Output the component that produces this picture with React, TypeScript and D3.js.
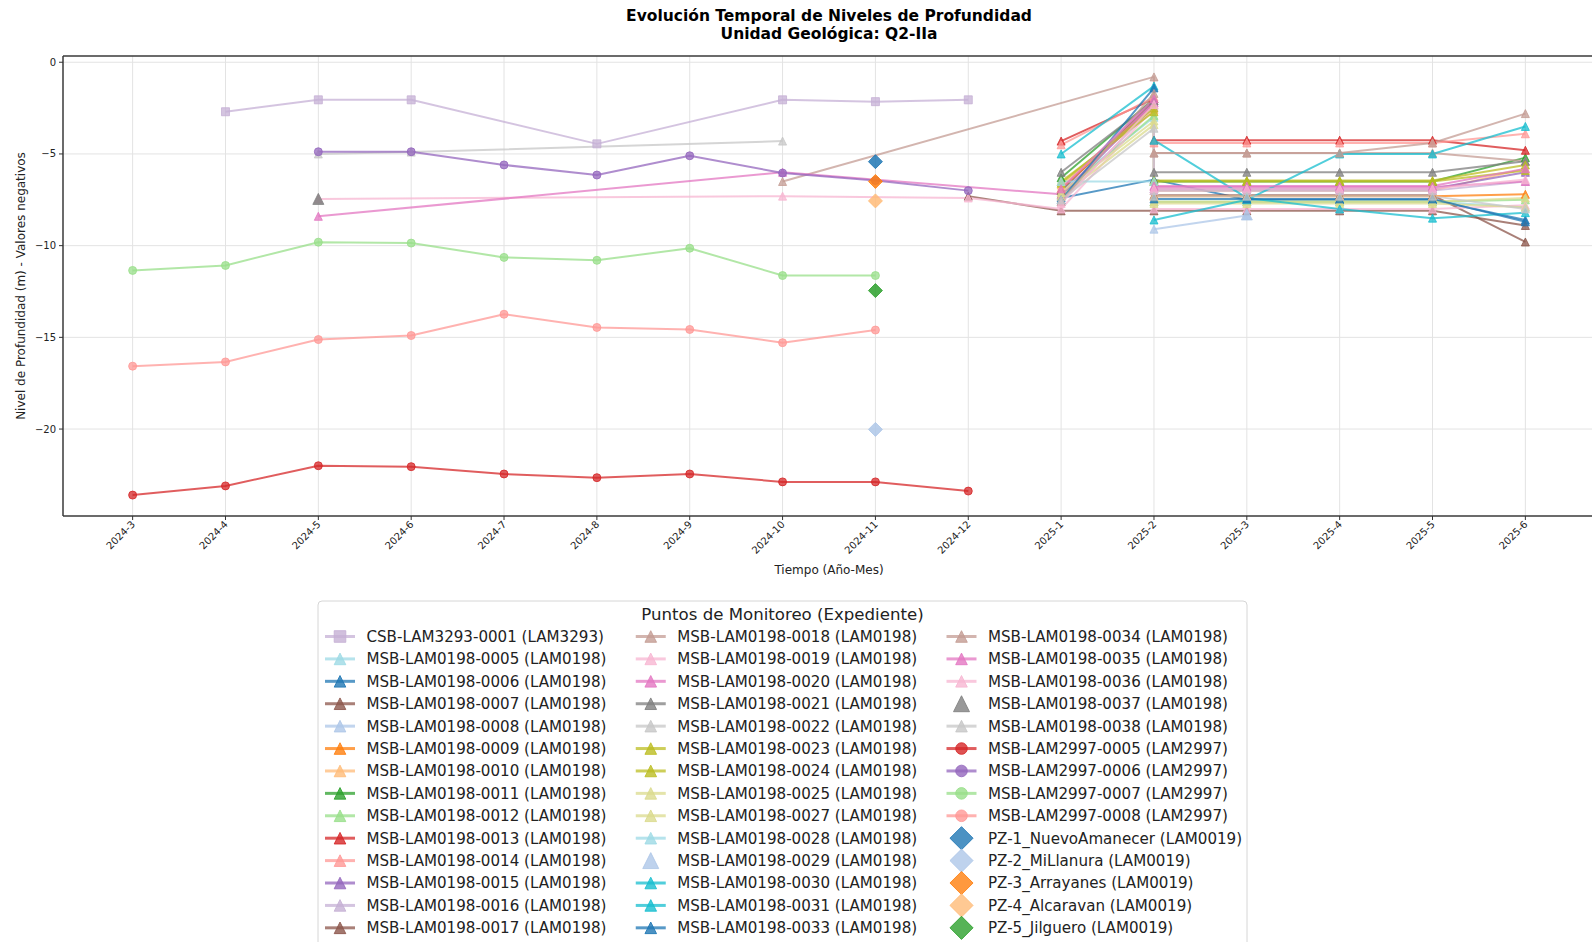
import React from 'react';
import * as d3 from 'd3';

// Month categories on the x axis and tick values on the y axis
const months = [
  '2024-3', '2024-4', '2024-5', '2024-6', '2024-7', '2024-8', '2024-9', '2024-10',
  '2024-11', '2024-12', '2025-1', '2025-2', '2025-3', '2025-4', '2025-5', '2025-6',
];
const yTicks = [0, -5, -10, -15, -20];

type Pt = [string, number];

// Depth readings per monitoring point: [month, level in m]
const csb0001: Pt[] = [['2024-4', -2.7], ['2024-5', -2.05], ['2024-6', -2.05], ['2024-8', -4.45], ['2024-10', -2.05], ['2024-11', -2.15], ['2024-12', -2.05]];
const msb0005: Pt[] = [['2025-1', -7.0], ['2025-2', -3.0], ['2025-2', -7.6], ['2025-3', -7.6], ['2025-4', -7.6], ['2025-5', -7.6], ['2025-6', -7.9]];
const msb0006: Pt[] = [['2025-1', -7.4], ['2025-2', -6.4], ['2025-3', -7.5], ['2025-4', -7.5], ['2025-5', -7.5], ['2025-6', -8.6]];
const msb0007: Pt[] = [['2025-1', -7.0], ['2025-2', -2.1], ['2025-2', -7.25], ['2025-3', -7.25], ['2025-4', -7.25], ['2025-5', -7.25], ['2025-6', -9.8]];
const msb0008: Pt[] = [['2025-2', -9.1], ['2025-3', -8.35]];
const msb0009: Pt[] = [['2025-1', -6.9], ['2025-2', -2.3], ['2025-2', -7.3], ['2025-3', -7.3], ['2025-4', -7.3], ['2025-5', -7.3], ['2025-6', -7.2]];
const msb0010: Pt[] = [['2025-1', -6.7], ['2025-2', -2.6], ['2025-2', -7.0], ['2025-3', -7.0], ['2025-4', -7.0], ['2025-5', -7.0], ['2025-6', -5.8]];
const msb0011: Pt[] = [['2025-1', -6.3], ['2025-2', -2.0], ['2025-2', -6.5], ['2025-3', -6.5], ['2025-4', -6.5], ['2025-5', -6.5], ['2025-6', -5.2]];
const msb0012: Pt[] = [['2025-1', -7.2], ['2025-2', -2.9], ['2025-2', -7.6], ['2025-3', -7.6], ['2025-4', -7.6], ['2025-5', -7.6], ['2025-6', -7.5]];
const msb0013: Pt[] = [['2025-1', -4.3], ['2025-2', -2.0], ['2025-2', -4.25], ['2025-3', -4.25], ['2025-4', -4.25], ['2025-5', -4.25], ['2025-6', -4.8]];
const msb0014: Pt[] = [['2025-1', -4.5], ['2025-2', -1.9], ['2025-2', -4.4], ['2025-3', -4.4], ['2025-4', -4.4], ['2025-5', -4.4], ['2025-6', -3.9]];
const msb0015: Pt[] = [['2025-1', -7.3], ['2025-2', -2.2], ['2025-2', -6.9], ['2025-3', -6.9], ['2025-4', -6.9], ['2025-5', -6.9], ['2025-6', -6.0]];
const msb0016: Pt[] = [['2025-1', -7.6], ['2025-2', -2.4], ['2025-2', -7.0], ['2025-3', -7.0], ['2025-4', -7.0], ['2025-5', -7.0], ['2025-6', -6.5]];
const msb0017: Pt[] = [['2024-12', -7.3], ['2025-1', -8.1], ['2025-2', -8.1], ['2025-3', -8.1], ['2025-4', -8.1], ['2025-5', -8.1], ['2025-6', -8.9]];
const msb0018: Pt[] = [['2024-10', -6.5], ['2025-2', -0.8], ['2025-2', -4.95], ['2025-3', -4.95], ['2025-4', -4.95], ['2025-5', -4.95], ['2025-6', -5.4]];
const msb0019: Pt[] = [['2024-5', -7.45], ['2024-10', -7.3], ['2024-12', -7.4], ['2025-1', -8.0], ['2025-2', -2.5], ['2025-2', -8.0], ['2025-3', -8.0], ['2025-4', -8.0], ['2025-5', -8.0], ['2025-6', -7.8]];
const msb0020: Pt[] = [['2024-5', -8.4], ['2024-10', -6.0], ['2025-1', -7.2], ['2025-2', -2.2], ['2025-2', -6.8], ['2025-3', -6.8], ['2025-4', -6.8], ['2025-5', -6.8], ['2025-6', -6.5]];
const msb0021: Pt[] = [['2025-1', -6.0], ['2025-2', -2.1], ['2025-2', -6.0], ['2025-3', -6.0], ['2025-4', -6.0], ['2025-5', -6.0], ['2025-6', -5.4]];
const msb0022: Pt[] = [['2024-5', -5.0], ['2024-6', -4.9], ['2024-10', -4.3]];
const msb0023: Pt[] = [['2025-1', -6.5], ['2025-2', -2.7], ['2025-2', -6.45], ['2025-3', -6.45], ['2025-4', -6.45], ['2025-5', -6.45], ['2025-6', -5.6]];
const msb0024: Pt[] = [['2025-1', -6.6], ['2025-2', -2.5], ['2025-2', -6.5], ['2025-3', -6.5], ['2025-4', -6.5], ['2025-5', -6.5], ['2025-6', -5.9]];
const msb0025: Pt[] = [['2025-1', -7.1], ['2025-2', -3.2], ['2025-2', -7.6], ['2025-3', -7.6], ['2025-4', -7.6], ['2025-5', -7.6], ['2025-6', -7.4]];
const msb0027: Pt[] = [['2025-1', -7.3], ['2025-2', -3.4], ['2025-2', -7.7], ['2025-3', -7.7], ['2025-4', -7.7], ['2025-5', -7.7], ['2025-6', -7.9]];
const msb0028: Pt[] = [['2025-1', -6.5], ['2025-2', -6.5]];
const msb0029: Pt[] = [['2025-3', -8.3]];
const msb0030: Pt[] = [['2025-1', -5.0], ['2025-2', -1.3], ['2025-2', -4.25], ['2025-3', -7.4], ['2025-4', -8.0], ['2025-5', -8.5], ['2025-6', -8.2]];
const msb0031: Pt[] = [['2025-2', -8.6], ['2025-3', -7.5], ['2025-4', -5.0], ['2025-5', -5.0], ['2025-6', -3.5]];
const msb0033: Pt[] = [['2025-1', -7.5], ['2025-2', -1.4], ['2025-2', -7.45], ['2025-3', -7.45], ['2025-4', -7.45], ['2025-5', -7.45], ['2025-6', -8.7]];
const msb0034: Pt[] = [['2025-1', -7.6], ['2025-2', -1.7], ['2025-2', -4.95], ['2025-3', -4.95], ['2025-4', -4.95], ['2025-5', -4.4], ['2025-6', -2.8]];
const msb0035: Pt[] = [['2025-1', -6.9], ['2025-2', -2.0], ['2025-2', -6.75], ['2025-3', -6.75], ['2025-4', -6.75], ['2025-5', -6.75], ['2025-6', -5.8]];
const msb0036: Pt[] = [['2025-1', -7.7], ['2025-2', -2.3], ['2025-2', -6.9], ['2025-3', -6.9], ['2025-4', -6.9], ['2025-5', -6.9], ['2025-6', -6.4]];
const msb0037: Pt[] = [['2024-5', -7.45]];
const msb0038: Pt[] = [['2025-1', -7.5], ['2025-2', -3.6], ['2025-2', -7.3], ['2025-3', -7.3], ['2025-4', -7.3], ['2025-5', -7.3], ['2025-6', -8.0]];
const lam2997_0005: Pt[] = [['2024-3', -23.6], ['2024-4', -23.1], ['2024-5', -22.0], ['2024-6', -22.05], ['2024-7', -22.45], ['2024-8', -22.65], ['2024-9', -22.45], ['2024-10', -22.88], ['2024-11', -22.88], ['2024-12', -23.38]];
const lam2997_0006: Pt[] = [['2024-5', -4.88], ['2024-6', -4.88], ['2024-7', -5.6], ['2024-8', -6.15], ['2024-9', -5.1], ['2024-10', -6.04], ['2024-11', -6.45], ['2024-12', -7.0]];
const lam2997_0007: Pt[] = [['2024-3', -11.35], ['2024-4', -11.08], ['2024-5', -9.81], ['2024-6', -9.86], ['2024-7', -10.64], ['2024-8', -10.8], ['2024-9', -10.14], ['2024-10', -11.63], ['2024-11', -11.63]];
const lam2997_0008: Pt[] = [['2024-3', -16.57], ['2024-4', -16.34], ['2024-5', -15.12], ['2024-6', -14.9], ['2024-7', -13.74], ['2024-8', -14.46], ['2024-9', -14.57], ['2024-10', -15.29], ['2024-11', -14.6]];
const pz1: Pt[] = [['2024-11', -5.42]];
const pz2: Pt[] = [['2024-11', -20.02]];
const pz3: Pt[] = [['2024-11', -6.5]];
const pz4: Pt[] = [['2024-11', -7.56]];
const pz5: Pt[] = [['2024-11', -12.45]];

type Marker = 'square' | 'triangle' | 'circle' | 'diamond';
interface Series { name: string; data: Pt[]; color: string; marker: Marker }

const seriesList: Series[] = [
  { name: 'CSB-LAM3293-0001 (LAM3293)', data: csb0001, color: '#c5b0d5', marker: 'square' },
  { name: 'MSB-LAM0198-0005 (LAM0198)', data: msb0005, color: '#9edae5', marker: 'triangle' },
  { name: 'MSB-LAM0198-0006 (LAM0198)', data: msb0006, color: '#1f77b4', marker: 'triangle' },
  { name: 'MSB-LAM0198-0007 (LAM0198)', data: msb0007, color: '#8c564b', marker: 'triangle' },
  { name: 'MSB-LAM0198-0008 (LAM0198)', data: msb0008, color: '#aec7e8', marker: 'triangle' },
  { name: 'MSB-LAM0198-0009 (LAM0198)', data: msb0009, color: '#ff7f0e', marker: 'triangle' },
  { name: 'MSB-LAM0198-0010 (LAM0198)', data: msb0010, color: '#ffbb78', marker: 'triangle' },
  { name: 'MSB-LAM0198-0011 (LAM0198)', data: msb0011, color: '#2ca02c', marker: 'triangle' },
  { name: 'MSB-LAM0198-0012 (LAM0198)', data: msb0012, color: '#98df8a', marker: 'triangle' },
  { name: 'MSB-LAM0198-0013 (LAM0198)', data: msb0013, color: '#d62728', marker: 'triangle' },
  { name: 'MSB-LAM0198-0014 (LAM0198)', data: msb0014, color: '#ff9896', marker: 'triangle' },
  { name: 'MSB-LAM0198-0015 (LAM0198)', data: msb0015, color: '#9467bd', marker: 'triangle' },
  { name: 'MSB-LAM0198-0016 (LAM0198)', data: msb0016, color: '#c5b0d5', marker: 'triangle' },
  { name: 'MSB-LAM0198-0017 (LAM0198)', data: msb0017, color: '#8c564b', marker: 'triangle' },
  { name: 'MSB-LAM0198-0018 (LAM0198)', data: msb0018, color: '#c49c94', marker: 'triangle' },
  { name: 'MSB-LAM0198-0019 (LAM0198)', data: msb0019, color: '#f7b6d2', marker: 'triangle' },
  { name: 'MSB-LAM0198-0020 (LAM0198)', data: msb0020, color: '#e377c2', marker: 'triangle' },
  { name: 'MSB-LAM0198-0021 (LAM0198)', data: msb0021, color: '#7f7f7f', marker: 'triangle' },
  { name: 'MSB-LAM0198-0022 (LAM0198)', data: msb0022, color: '#c7c7c7', marker: 'triangle' },
  { name: 'MSB-LAM0198-0023 (LAM0198)', data: msb0023, color: '#bcbd22', marker: 'triangle' },
  { name: 'MSB-LAM0198-0024 (LAM0198)', data: msb0024, color: '#bcbd22', marker: 'triangle' },
  { name: 'MSB-LAM0198-0025 (LAM0198)', data: msb0025, color: '#dbdb8d', marker: 'triangle' },
  { name: 'MSB-LAM0198-0027 (LAM0198)', data: msb0027, color: '#dbdb8d', marker: 'triangle' },
  { name: 'MSB-LAM0198-0028 (LAM0198)', data: msb0028, color: '#9edae5', marker: 'triangle' },
  { name: 'MSB-LAM0198-0029 (LAM0198)', data: msb0029, color: '#aec7e8', marker: 'triangle' },
  { name: 'MSB-LAM0198-0030 (LAM0198)', data: msb0030, color: '#17becf', marker: 'triangle' },
  { name: 'MSB-LAM0198-0031 (LAM0198)', data: msb0031, color: '#17becf', marker: 'triangle' },
  { name: 'MSB-LAM0198-0033 (LAM0198)', data: msb0033, color: '#1f77b4', marker: 'triangle' },
  { name: 'MSB-LAM0198-0034 (LAM0198)', data: msb0034, color: '#c49c94', marker: 'triangle' },
  { name: 'MSB-LAM0198-0035 (LAM0198)', data: msb0035, color: '#e377c2', marker: 'triangle' },
  { name: 'MSB-LAM0198-0036 (LAM0198)', data: msb0036, color: '#f7b6d2', marker: 'triangle' },
  { name: 'MSB-LAM0198-0037 (LAM0198)', data: msb0037, color: '#7f7f7f', marker: 'triangle' },
  { name: 'MSB-LAM0198-0038 (LAM0198)', data: msb0038, color: '#c7c7c7', marker: 'triangle' },
  { name: 'MSB-LAM2997-0005 (LAM2997)', data: lam2997_0005, color: '#d62728', marker: 'circle' },
  { name: 'MSB-LAM2997-0006 (LAM2997)', data: lam2997_0006, color: '#9467bd', marker: 'circle' },
  { name: 'MSB-LAM2997-0007 (LAM2997)', data: lam2997_0007, color: '#98df8a', marker: 'circle' },
  { name: 'MSB-LAM2997-0008 (LAM2997)', data: lam2997_0008, color: '#ff9896', marker: 'circle' },
  { name: 'PZ-1_NuevoAmanecer (LAM0019)', data: pz1, color: '#1f77b4', marker: 'diamond' },
  { name: 'PZ-2_MiLlanura (LAM0019)', data: pz2, color: '#aec7e8', marker: 'diamond' },
  { name: 'PZ-3_Arrayanes (LAM0019)', data: pz3, color: '#ff7f0e', marker: 'diamond' },
  { name: 'PZ-4_Alcaravan (LAM0019)', data: pz4, color: '#ffbb78', marker: 'diamond' },
  { name: 'PZ-5_Jilguero (LAM0019)', data: pz5, color: '#2ca02c', marker: 'diamond' },
];

// Marker shapes; size argument is the squared extent in px
const symbolTypes: Record<Marker, d3.SymbolType> = {
  triangle: {
    draw(ctx, size) {
      const h = Math.sqrt(size) / 2;
      ctx.moveTo(0, -h); ctx.lineTo(h, h); ctx.lineTo(-h, h); ctx.closePath();
    },
  },
  square: {
    draw(ctx, size) {
      const h = Math.sqrt(size) / 2;
      ctx.moveTo(-h, -h); ctx.lineTo(h, -h); ctx.lineTo(h, h); ctx.lineTo(-h, h); ctx.closePath();
    },
  },
  circle: {
    draw(ctx, size) {
      const r = Math.sqrt(size) / 2;
      ctx.moveTo(r, 0); ctx.arc(0, 0, r, 0, Math.PI * 2);
    },
  },
  diamond: {
    draw(ctx, size) {
      const h = Math.sqrt(size) / 2;
      ctx.moveTo(0, -h); ctx.lineTo(h, 0); ctx.lineTo(0, h); ctx.lineTo(-h, 0); ctx.closePath();
    },
  },
};

const W = 1592;
const H = 942;
const plot = { left: 63, right: 1595, top: 56, bottom: 516 };
const FONT = 'DejaVu Sans, Verdana, sans-serif';

function markerSize(s: Series, inLegend: boolean) {
  const single = s.data.length === 1;
  let px: number;
  if (s.marker === 'diamond') px = 14;
  else if (single) px = 11;
  else if (s.marker === 'circle') px = 8;
  else px = 8;
  return inLegend ? px * (s.marker === 'diamond' ? 1.65 : 1.45) : px;
}

export default function App() {
  const x = d3.scalePoint<string>().domain(months).range([plot.left, plot.right]).padding(0.75);
  const allVals = seriesList.flatMap((s) => s.data.map((d) => d[1]));
  const [vmin, vmax] = d3.extent(allVals) as [number, number];
  const pad = (vmax - vmin) * 0.05;
  const y = d3.scaleLinear().domain([vmin - pad, vmax + pad]).range([plot.bottom, plot.top]);

  const line = d3.line<Pt>().x((d) => x(d[0]) as number).y((d) => y(d[1]));
  const sym = (s: Series, legend: boolean) =>
    d3.symbol().type(symbolTypes[s.marker]).size(markerSize(s, legend) ** 2)() as string;

  const rows = 14;
  const legendTop = 601;
  const legendLeft = 318;
  const legendRight = 1247;
  const colStep = 310.75;
  const rowStep = 22.41;
  const firstRowY = 636.5;

  return (
    <div style={{ position: 'absolute', left: 0, top: 0 }}>
      <svg width={W} height={H} viewBox={`0 0 ${W} ${H}`} style={{ display: 'block', background: '#fff' }}>
        <rect x={0} y={0} width={W} height={H} fill="#fff" />
        <text x={829} y={21} textAnchor="middle" fontFamily={FONT} fontWeight="bold" fontSize={15.5} fill="#000">
          Evolución Temporal de Niveles de Profundidad
        </text>
        <text x={829} y={38.5} textAnchor="middle" fontFamily={FONT} fontWeight="bold" fontSize={15.5} fill="#000">
          Unidad Geológica: Q2-IIa
        </text>

        {/* grid */}
        <g stroke="#e3e3e3" strokeWidth={1}>
          {months.map((m) => (
            <line key={m} x1={x(m)} x2={x(m)} y1={plot.top} y2={plot.bottom} />
          ))}
          {yTicks.map((t) => (
            <line key={t} x1={plot.left} x2={plot.right} y1={y(t)} y2={y(t)} />
          ))}
        </g>

        {/* series lines */}
        {seriesList.map((s) =>
          s.data.length > 1 ? (
            <path key={s.name + '-l'} d={line(s.data) as string} fill="none" stroke={s.color}
              strokeWidth={2} strokeOpacity={0.75} strokeLinejoin="round" />
          ) : null,
        )}
        {/* series markers */}
        {seriesList.map((s) => (
          <g key={s.name + '-m'}>
            {s.data.map((d, i) => (
              <path key={i} d={sym(s, false)} transform={`translate(${x(d[0])},${y(d[1])})`}
                fill={s.color} fillOpacity={s.data.length === 1 ? 0.85 : 0.75}
                stroke={s.color} strokeOpacity={0.8} strokeWidth={1} />
            ))}
          </g>
        ))}

        {/* spines */}
        <g stroke="#3a3a3a" strokeWidth={1.5} fill="none">
          <line x1={plot.left} x2={plot.right} y1={plot.top} y2={plot.top} />
          <line x1={plot.left} x2={plot.right} y1={plot.bottom} y2={plot.bottom} />
          <line x1={plot.left} x2={plot.left} y1={plot.top} y2={plot.bottom} />
          <line x1={plot.right} x2={plot.right} y1={plot.top} y2={plot.bottom} />
        </g>

        {/* y axis */}
        {yTicks.map((t) => (
          <g key={t}>
            <line x1={plot.left - 4} x2={plot.left} y1={y(t)} y2={y(t)} stroke="#333" strokeWidth={1} />
            <text x={plot.left - 7} y={y(t)} dy="0.35em" textAnchor="end" fontFamily={FONT} fontSize={10} fill="#222">
              {t === 0 ? '0' : '\u2212' + Math.abs(t)}
            </text>
          </g>
        ))}
        <text transform={`translate(21,${(plot.top + plot.bottom) / 2}) rotate(-90)`} textAnchor="middle"
          dy="0.35em" fontFamily={FONT} fontSize={12} fill="#222">
          Nivel de Profundidad (m) - Valores negativos
        </text>

        {/* x axis */}
        {months.map((m) => (
          <g key={m}>
            <line x1={x(m)} x2={x(m)} y1={plot.bottom} y2={plot.bottom + 4} stroke="#333" strokeWidth={1} />
            <text transform={`translate(${(x(m) as number) + 3},${plot.bottom + 9}) rotate(-45)`} textAnchor="end"
              fontFamily={FONT} fontSize={10} fill="#222">
              {m}
            </text>
          </g>
        ))}
        <text x={829} y={574} textAnchor="middle" fontFamily={FONT} fontSize={12} fill="#222">
          Tiempo (Año-Mes)
        </text>

        {/* legend */}
        <rect x={legendLeft} y={legendTop} width={legendRight - legendLeft} height={380} rx={4}
          fill="#fff" fillOpacity={0.9} stroke="#d6d6d6" strokeWidth={1} />
        <text x={(legendLeft + legendRight) / 2} y={620} textAnchor="middle" fontFamily={FONT} fontSize={16.6} fill="#222">
          Puntos de Monitoreo (Expediente)
        </text>
        {seriesList.map((s, i) => {
          const col = Math.floor(i / rows);
          const row = i % rows;
          const hx = 325 + col * colStep;
          const cy = firstRowY + row * rowStep;
          return (
            <g key={s.name + '-lg'}>
              {s.data.length > 1 && (
                <line x1={hx} x2={hx + 30} y1={cy} y2={cy} stroke={s.color} strokeWidth={3} strokeOpacity={0.75} />
              )}
              <path d={sym(s, true)} transform={`translate(${hx + 15},${cy})`} fill={s.color} fillOpacity={0.8}
                stroke={s.color} strokeOpacity={0.85} strokeWidth={1} />
              <text x={hx + 41.5} y={cy} dy="0.36em" fontFamily={FONT} fontSize={15.1} fill="#222">
                {s.name}
              </text>
            </g>
          );
        })}
      </svg>
    </div>
  );
}
